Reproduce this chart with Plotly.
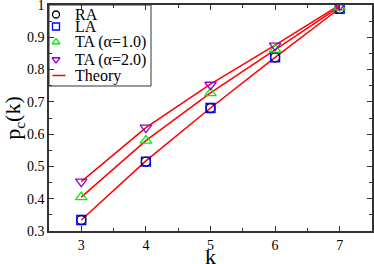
import plotly.graph_objects as go

k = [3, 4, 5, 6, 7]
ra = [0.334, 0.515, 0.681, 0.838, 0.988]
la = [0.334, 0.515, 0.681, 0.838, 0.988]
ta1 = [0.405, 0.580, 0.727, 0.862, 0.993]
ta2 = [0.453, 0.620, 0.753, 0.874, 0.998]
th_ra = [0.334, 0.517, 0.681, 0.838, 0.99]
th_ta1 = [0.405, 0.580, 0.728, 0.862, 0.995]
th_ta2 = [0.453, 0.620, 0.755, 0.876, 1.0]
y_ticks = [0.3, 0.4, 0.5, 0.6, 0.7, 0.8, 0.9, 1.0]
y_ticklabels = ["0.3", "0.4", "0.5", "0.6", "0.7", "0.8", "0.9", "1"]
legend_labels = ["RA", "LA", "TA (α=1.0)", "TA (α=2.0)", "Theory"]

FONT = "Liberation Serif"
W, H = 374, 264
ML, MR, MT, MB = 49, 2, 5, 33
PW, PH = W - ML - MR, H - MT - MB

styles = [
    dict(symbol="circle-open", color="black"),
    dict(symbol="square-open", color="blue"),
    dict(symbol="triangle-up-open", color="#00ee00"),
    dict(symbol="triangle-down-open", color="#9400d3"),
]
series = [ra, la, ta1, ta2]

fig = go.Figure()
for th in [th_ra, th_ta1, th_ta2]:
    fig.add_trace(go.Scatter(x=k, y=th, mode="lines", line=dict(color="red", width=1.5),
                             showlegend=False, hoverinfo="skip"))
for s, vals, lab in zip(styles, series, legend_labels):
    sz = 9 if "triangle" not in s["symbol"] else 10
    fig.add_trace(go.Scatter(x=k, y=vals, mode="markers", name=lab, showlegend=False,
                             marker=dict(symbol=s["symbol"], color=s["color"], size=sz,
                                         line=dict(width=1.3))))

# manual legend (pixel layout inside plot area, top-left)
entry_y = [14.5, 26.5, 42, 59.5, 75.5]  # px from top of figure
sym_x = 56 - ML
for s, ey in zip(styles, entry_y[:4]):
    fig.add_trace(go.Scatter(x=[sym_x], y=[ey - MT], xaxis="x2", yaxis="y2", mode="markers",
                             showlegend=False, hoverinfo="skip",
                             marker=dict(symbol=s["symbol"], color=s["color"], size=7,
                                         line=dict(width=1.3))))
fig.add_trace(go.Scatter(x=[52.5 - ML, 65.5 - ML], y=[entry_y[4] - MT] * 2, xaxis="x2", yaxis="y2",
                         mode="lines", line=dict(color="red", width=1.5), showlegend=False,
                         hoverinfo="skip"))
for lab, ey in zip(legend_labels, entry_y):
    fig.add_annotation(text=lab, xref="x domain", yref="y domain", x=0, y=1, xshift=73 - ML,
                       yshift=-(ey - MT), xanchor="left", yanchor="middle", showarrow=False,
                       font=dict(family=FONT, size=16, color="black"))
fig.add_shape(type="rect", xref="x domain", yref="y domain", xsizemode="pixel", ysizemode="pixel",
              xanchor=0, yanchor=1, x0=0, x1=151 - ML, y0=0, y1=-(86 - MT),
              line=dict(color="#333", width=1))
# x axis title
fig.add_annotation(text="k", xref="x domain", yref="y domain", x=0.5, y=0, yshift=-25,
                   xanchor="center", yanchor="middle", showarrow=False,
                   font=dict(family=FONT, size=22, color="black"))

axis_common = dict(showgrid=False, zeroline=False, showline=True, linecolor="#333", linewidth=1.5,
                   mirror="ticks", ticks="inside", ticklen=5, tickwidth=1, tickcolor="#333",
                   automargin=False, ticklabeloverflow="allow",
                   tickfont=dict(family=FONT, size=14, color="black"))
fig.update_layout(
    width=W, height=H, margin=dict(l=ML, r=MR, t=MT, b=MB),
    plot_bgcolor="white", paper_bgcolor="white", font=dict(family=FONT),
    showlegend=False,
    xaxis=dict(range=[2.5, 7.5], dtick=1,
               minor=dict(ticks="inside", dtick=0.5, ticklen=3, tickcolor="#333"),
               **axis_common),
    yaxis=dict(range=[0.3, 1.0], tickvals=y_ticks, ticktext=y_ticklabels,
               minor=dict(ticks="inside", dtick=0.05, ticklen=3, tickcolor="#333"),
               title=dict(text="p<sub>c</sub>(k)", font=dict(family=FONT, size=22, color="black"),
                          standoff=5),
               **axis_common),
    xaxis2=dict(overlaying="x", range=[0, PW], visible=False, fixedrange=True),
    yaxis2=dict(overlaying="y", range=[PH, 0], visible=False, fixedrange=True),
)
fig.write_html("out.html", config={"displayModeBar": False},
               post_script="document.body.style.margin='0px';")
